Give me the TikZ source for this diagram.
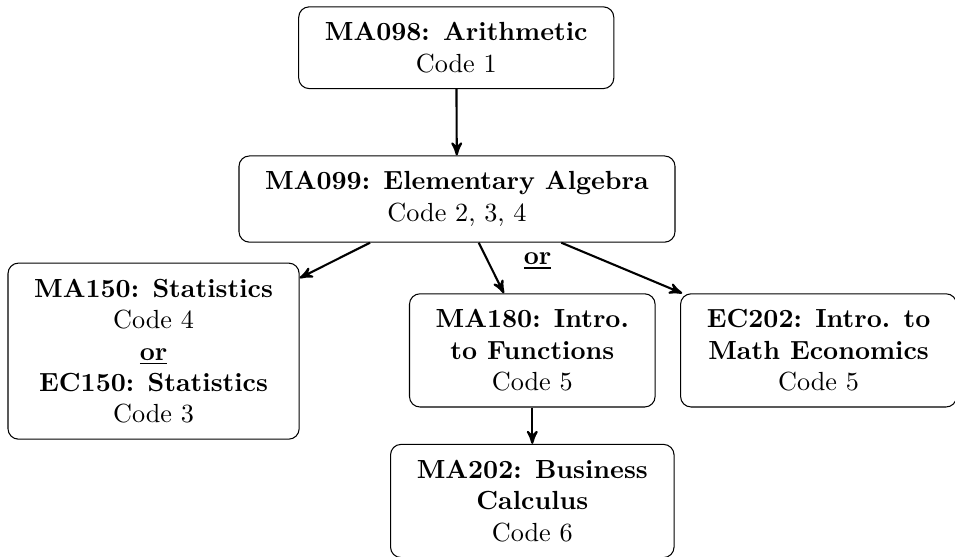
\documentclass[tikz,border=0pt]{standalone}
\usepackage{amssymb, amsmath}
\usepackage{tikz}
\usetikzlibrary{arrows}

\begin{document}
\begin{tikzpicture}[course/.style={draw, rounded corners, align=center, inner xsep=10pt, inner ysep=6pt},
							>=stealth', scale=1]
			\useasboundingbox (0,0) rectangle (12.81,-7.47);
			\node[course] (ma098) at (6.12,-0.64) {\textbf{MA098: Arithmetic}\\Code 1};
			\node[course] (ma099) at (6.13,-2.67) {\textbf{MA099: Elementary Algebra}\\Code 2, 3, 4};
			\node[course] (ma150) at (2.06,-4.71) {\textbf{MA150: Statistics}\\Code 4\\\underline{\textbf{or}}\\\textbf{EC150: Statistics}\\Code 3};
			\node[course] (ma180) at (7.14,-4.70) {\textbf{MA180: Intro.}\\\textbf{to Functions}\\Code 5};
			\node[course] (ec202) at (10.98,-4.70) {\textbf{EC202: Intro. to}\\\textbf{Math Economics}\\Code 5};
			\node[course] (ma202) at (7.14,-6.72) {\textbf{MA202: Business}\\\textbf{Calculus}\\Code 6};
			\node (or) at (7.21,-3.50) {\underline{\textbf{or}}};
			\draw[thick, ->] (ma098) -- (ma099);
			\foreach \x in {ma150,ma180,ec202}
				\draw[thick, ->] (ma099) -- (\x);
			\draw[thick, ->] (ma180) -- (ma202);
		\end{tikzpicture}
\end{document}
